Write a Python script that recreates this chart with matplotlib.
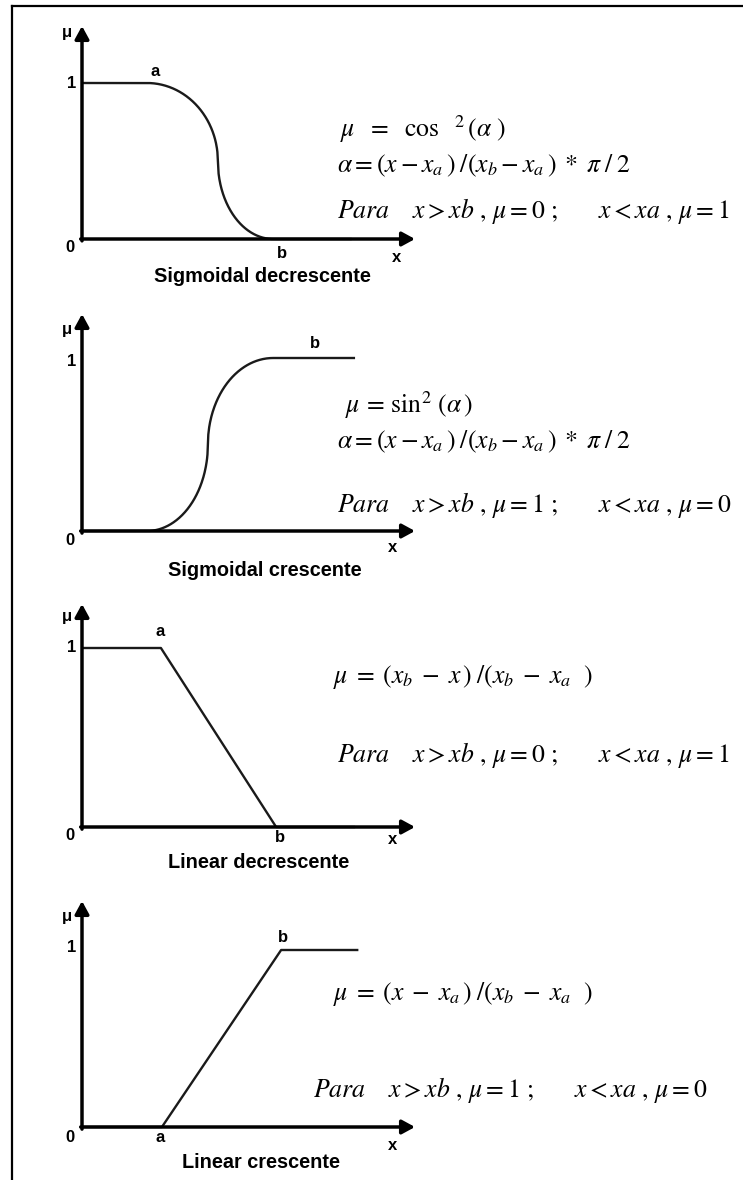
import numpy as np
import matplotlib
matplotlib.use("Agg")
import matplotlib.pyplot as plt
from matplotlib.lines import Line2D

plt.rcParams['mathtext.fontset'] = 'stix'
plt.rcParams['font.family'] = ['Liberation Sans', 'DejaVu Sans']

# ---- data (x in arbitrary units, axis runs 0..10; mu in 0..1) ----
titles = ["Sigmoidal decrescente", "Sigmoidal crescente",
          "Linear decrescente", "Linear crescente"]
kinds = ["sig_dec", "sig_inc", "lin_dec", "lin_inc"]
xa_vals = [1.95, 1.95, 2.37, 2.40]      # start of transition (point a)
xm_vals = [4.08, 3.78, None, None]      # steepest point of the S-curves
xb_vals = [5.74, 5.74, 5.83, 5.98]      # end of transition (point b)
xend_vals = [8.10, 8.20, 8.20, 8.30]    # end of drawn curve
point_labels = [("a", "b"), (None, "b"), ("a", "b"), ("a", "b")]
formula_top = [r'$\mu\ \ =\ \ \cos\ \ ^{2}\,(\alpha\ )$',
               r'$\mu\,=\,\sin^{2}\,(\alpha\,)$',
               r'$\mu\;=\;(x_{b}\;-\;x\,)\;/(x_{b}\;-\;x_{a}\ \ )$',
               r'$\mu\;=\;(x\;-\;x_{a}\,)\;/(x_{b}\;-\;x_{a}\ \ )$']
formula_alpha = [r'$\alpha=(x-x_{a}\,)\;/(x_{b}-x_{a}\,)\;*\;\pi\;/\;2$',
                 r'$\alpha=(x-x_{a}\,)\;/(x_{b}-x_{a}\,)\;*\;\pi\;/\;2$',
                 None, None]
formula_para = [r'$\mathit{Para}\quad\;x>xb\ ,\,\mu=\mathit{0}\ ;\qquad x<xa\ ,\,\mu=\mathit{1}$',
                r'$\mathit{Para}\quad\;x>xb\ ,\,\mu=\mathit{1}\ ;\qquad x<xa\ ,\,\mu=\mathit{0}$',
                r'$\mathit{Para}\quad\;x>xb\ ,\,\mu=\mathit{0}\ ;\qquad x<xa\ ,\,\mu=\mathit{1}$',
                r'$\mathit{Para}\quad\;x>xb\ ,\,\mu=\mathit{1}\ ;\qquad x<xa\ ,\,\mu=\mathit{0}$']

W, H = 743, 1180
fig = plt.figure(figsize=(W / 100, H / 100), dpi=100)

# frame (top and left lines only)
fig.add_artist(Line2D([12 / W, 1.0], [1 - 6 / H, 1 - 6 / H], color='black', lw=1.6))
fig.add_artist(Line2D([12 / W, 12 / W], [1 - 6 / H, 0.0], color='black', lw=1.6))

def T(x, y, s, **kw):
    kw.setdefault('ha', 'center')
    kw.setdefault('va', 'center')
    return fig.text(x / W, 1 - y / H, s, **kw)

# layout per panel: (level0 y, level1 y, arrow top y) in pixels
layout = [(239, 83, 26), (531, 358, 314), (827, 648, 604), (1127, 950, 901)]
x_left, x_right = 82, 415

lab_kw = dict(fontsize=12, fontweight='bold', color='black')
title_kw = dict(fontsize=14.3, fontweight='bold', color='black')
eq_kw = dict(fontsize=18.5, color='black', ha='left', va='baseline')

mu_pos = [(67, 33), (67, 330), (67, 617), (67, 917)]
one_pos = [(72, 83), (72, 361), (72, 648), (72, 948)]
zero_pos = [(70, 248), (70, 541), (70, 836), (70, 1137)]
a_pos = [(155, 72), None, (160, 632), (160, 1138)]
b_pos = [(282, 253), (315, 343), (280, 838), (283, 937)]
xl_pos = [(397, 258), (393, 547), (393, 840), (393, 1145)]
title_pos = [(262, 276), (265, 570), (259, 863), (261, 1163)]
top_pos = [(340, 137), (345, 413), (333, 683), (333, 1000)]
alpha_pos = [(337, 172), (337, 448), None, None]
para_pos = [(337, 218), (337, 512), (337, 762), (313, 1097)]

def s_curve(xa, xm, xb, n=150):
    """Decreasing S-shape from 1 at xa to 0 at xb built from two quarter-ellipses."""
    x1 = np.linspace(xa, xm, n)
    y1 = 0.5 + 0.5 * np.sqrt(np.clip(1 - ((x1 - xa) / (xm - xa)) ** 2, 0, 1))
    x2 = np.linspace(xm, xb, n)
    y2 = 0.5 - 0.5 * np.sqrt(np.clip(1 - ((xb - x2) / (xb - xm)) ** 2, 0, 1))
    return np.concatenate([x1, x2]), np.concatenate([y1, y2])

for i in range(4):
    y0, y1, yt = layout[i]
    ax = fig.add_axes([x_left / W, 1 - y0 / H, (x_right - x_left) / W, (y0 - y1) / H])
    ax.set_xlim(0, 10)
    ax.set_ylim(0, 1)
    ax.axis('off')
    ytop = (y0 - yt) / (y0 - y1)

    xa, xb, xe = xa_vals[i], xb_vals[i], xend_vals[i]
    k = kinds[i]
    if k == "sig_dec":
        cx, cy = s_curve(xa, xm_vals[i], xb)
        xx = np.concatenate([[0], cx, [xe]])
        yy = np.concatenate([[1], cy, [0]])
    elif k == "sig_inc":
        cx, cy = s_curve(xa, xm_vals[i], xb)
        xx = np.concatenate([[0], cx, [xe]])
        yy = np.concatenate([[0], 1 - cy, [1]])
    elif k == "lin_dec":
        xx = np.array([0, xa, xb, xe])
        yy = np.array([1, 1, 0, 0])
    else:
        xx = np.array([0, xa, xb, xe])
        yy = np.array([0, 0, 1, 1])
    ax.plot(xx, yy, color='#1a1a1a', lw=1.7, clip_on=False, solid_capstyle='butt')

    arrow = dict(arrowstyle='-|>,head_length=0.55,head_width=0.3',
                 lw=2.5, color='black', shrinkA=0, shrinkB=0, mutation_scale=14)
    ax.annotate('', xy=(0, ytop), xytext=(0, -0.012), arrowprops=arrow,
                annotation_clip=False)
    ax.annotate('', xy=(10, 0), xytext=(-0.04, 0), arrowprops=arrow,
                annotation_clip=False)

    T(*mu_pos[i], '\u03bc', **lab_kw)
    T(*one_pos[i], '1', **lab_kw)
    T(*zero_pos[i], '0', **lab_kw)
    la, lb = point_labels[i]
    if la and a_pos[i]:
        T(*a_pos[i], la, **lab_kw)
    if lb:
        T(*b_pos[i], lb, **lab_kw)
    T(*xl_pos[i], 'x', **lab_kw)
    T(*title_pos[i], titles[i], **title_kw)

    T(*top_pos[i], formula_top[i], **eq_kw)
    if formula_alpha[i]:
        T(*alpha_pos[i], formula_alpha[i], **eq_kw)
    T(*para_pos[i], formula_para[i], **eq_kw)

fig.savefig("out.png", dpi=100, facecolor='white')
